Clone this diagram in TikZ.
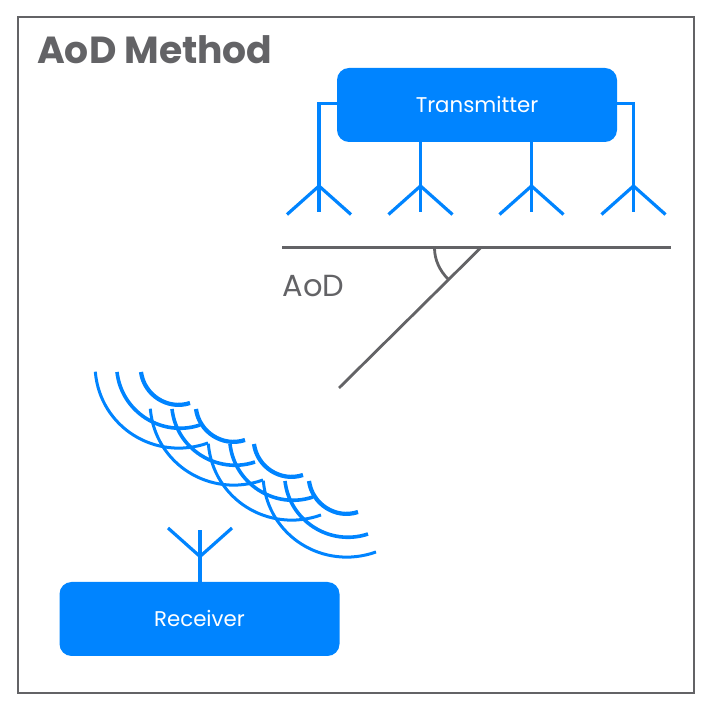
\documentclass[tikz,border=0pt]{standalone}
\usepackage{fontspec}
\setmainfont{Poppins}
\usetikzlibrary{calc}
\definecolor{aodblue}{HTML}{0084FF}
\definecolor{aodgray}{HTML}{636366}
\tikzset{
    unitbox/.style={fill=aodblue, text=white, rounded corners=12pt, minimum width=280pt, minimum height=74pt, inner sep=0pt, text depth=2pt, font=\fontsize{21.3}{25}\selectfont},
    antline/.style={draw=aodblue, line width=3.2pt},
    graythin/.style={draw=aodgray, line width=2.8pt},
}
\begin{document}
\begin{tikzpicture}[x=1pt, y=-1pt]
    \useasboundingbox (0,0) rectangle (713,708);
    \draw[aodgray, line width=1.6pt] (18,17) rectangle (694,693);
    \node[anchor=base west, inner sep=0pt, text=aodgray, font=\fontsize{37.7}{44}\selectfont\bfseries] (title) at (37,63.5) {AoD Method};

    \node[unitbox] (tx) at (477,105) {Transmitter};
    \node[unitbox] (rx) at (199.5,619) {Receiver};

    % transmitter antennas
    \foreach \x/\ant in {319/anta, 420.5/antb, 531.5/antc, 633.5/antd} {
        \coordinate (\ant) at (\x,186);
        \draw[antline] (\ant) -- ++(0,26);
        \draw[antline] (\ant) -- ++(-32,28.5);
        \draw[antline] (\ant) -- ++(32,28.5);
    }
    \draw[antline] ([yshift=1.5pt]tx.west) -| (anta);
    \draw[antline] (tx.south -| antb) -- (antb);
    \draw[antline] (tx.south -| antc) -- (antc);
    \draw[antline] ([yshift=1.5pt]tx.east) -| (antd);

    % receiver antenna
    \coordinate (ante) at (200,556.5);
    \draw[antline] (rx.north -| ante) -- (ante) -- ++(0,-26);
    \draw[antline] (ante) -- ++(-32,-28.5);
    \draw[antline] (ante) -- ++(32,-28.5);

    % angle
    \coordinate (hleft) at (282,247.5);
    \coordinate (hright) at (671,247.5);
    \coordinate (apex) at (481,247.5);
    \coordinate (dirend) at (339,388);
    \draw[aodgray, line width=3.4pt] (hleft) -- (hright);
    \draw[graythin] (apex) -- (dirend);
    \draw[graythin] (434.5,248) .. controls (434.5,260) and (440,271) .. (448,279);
    \node[anchor=base west, inner sep=0pt, text=aodgray, font=\fontsize{30.5}{35}\selectfont] (aod) at (282.5,296.5) {AoD};

    % wavefronts
    \foreach \dx/\dy in {0/0, 55/37, 113/72, 168/109} {
        \begin{scope}[shift={(\dx,\dy)}, aodblue]
            \draw[line width=3pt] (95.3,371.7) .. controls +(4.7,55.6) and (155.4,461.7) .. (208,443);
            \draw[line width=3.6pt] (117,372) .. controls +(4.5,40) and (161.8,437.7) .. (200,425);
            \draw[line width=4.2pt] (141,372) .. controls +(3.1,23.2) and (167.8,410.4) .. (190,403);
        \end{scope}
    }
\end{tikzpicture}
\end{document}
